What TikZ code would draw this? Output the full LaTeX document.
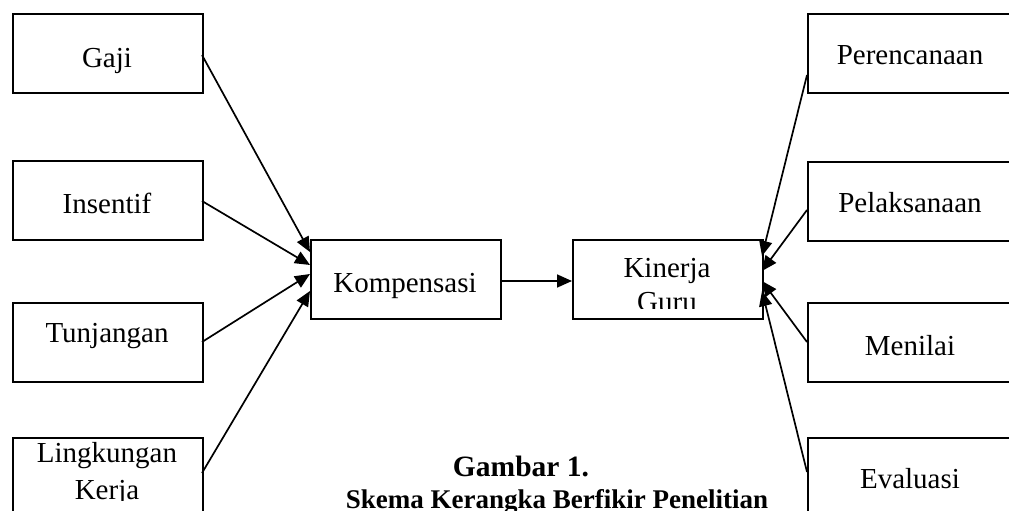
\documentclass[tikz,border=0pt]{standalone}
\usepackage{fontspec}
\setmainfont{Liberation Serif}
\usetikzlibrary{arrows.meta}
\begin{document}
\begin{tikzpicture}[x=1pt,y=-1pt,
  box/.style={draw, line width=1.8pt, minimum width=190pt, minimum height=79pt, inner sep=0pt, anchor=north west},
  rbox/.style={box, minimum width=215pt},
  lbl/.style={font=\fontsize{29}{34}\selectfont, anchor=base, inner sep=0pt},
  ttl/.style={font=\fontsize{29.5}{34}\selectfont\bfseries, anchor=base, inner sep=0pt},
  ttlb/.style={font=\fontsize{27}{34}\selectfont\bfseries, anchor=base, inner sep=0pt},
  arr/.style={line width=1.7pt, -{Triangle[length=15pt,width=13pt]}}]
\useasboundingbox (0,0) rectangle (1009,511);
\clip (0,0) rectangle (1009,511);
% boxes
\node[box] (gaji) at (12,13) {};
\node[box] (insentif) at (12,160) {};
\node[box] (tunjangan) at (12,302) {};
\node[box] (lingkungan) at (12,437) {};
\node[box] (komp) at (310,239) {};
\node[box] (kinerja) at (572,239) {};
\node[rbox] (peren) at (807,13) {};
\node[rbox] (pelak) at (807,161) {};
\node[rbox] (menilai) at (807,302) {};
\node[rbox] (evalu) at (807,437) {};
% labels
\node[lbl] (tgaji) at (107,67) {Gaji};
\node[lbl] (tinsentif) at (107,213) {Insentif};
\node[lbl] (ttunj) at (107,342) {Tunjangan};
\node[lbl] (tkomp) at (405,292) {Kompensasi};
\node[lbl] (tperen) at (910,65) {Perencanaan};
\node[lbl] (tpelak) at (910,212) {Pelaksanaan};
\node[lbl] (tmenilai) at (910,355) {Menilai};
\node[lbl] (teval) at (910,488) {Evaluasi};
\begin{scope}
\clip (572,239) rectangle (762,308);
\node[lbl] (tkin) at (667,277) {Kinerja};
\node[lbl] (tguru) at (667,311) {Guru};
\end{scope}
\begin{scope}
\clip (12,437) rectangle (202,500);
\node[lbl] (tling) at (107,462) {Lingkungan};
\node[lbl] (tkerja) at (107,499) {Kerja};
\end{scope}
\node[ttl] (t1) at (521,476) {Gambar 1.};
\node[ttlb] (t2) at (557,508) {Skema Kerangka Berfikir Penelitian};
% connector points
\coordinate (sg) at (202,55);   \coordinate (eg) at (310,252);
\coordinate (si) at (202,201);  \coordinate (ei) at (310,265);
\coordinate (st) at (202,342);  \coordinate (et) at (310,274);
\coordinate (sl) at (202,473);  \coordinate (el) at (310,291);
\coordinate (sk) at (500,281);  \coordinate (ek) at (572,281);
\coordinate (sp) at (807,75);   \coordinate (ep) at (762,256);
\coordinate (sa) at (807,210);  \coordinate (ea) at (762,271);
\coordinate (sm) at (807,342);  \coordinate (em) at (762,281);
\coordinate (se) at (807,472);  \coordinate (ee) at (762,291);
\draw[arr] (sg) -- (eg);
\draw[arr] (si) -- (ei);
\draw[arr] (st) -- (et);
\draw[arr] (sl) -- (el);
\draw[arr] (sk) -- (ek);
\draw[arr] (sp) -- (ep);
\draw[arr] (sa) -- (ea);
\draw[arr] (sm) -- (em);
\draw[arr] (se) -- (ee);
\end{tikzpicture}
\end{document}
